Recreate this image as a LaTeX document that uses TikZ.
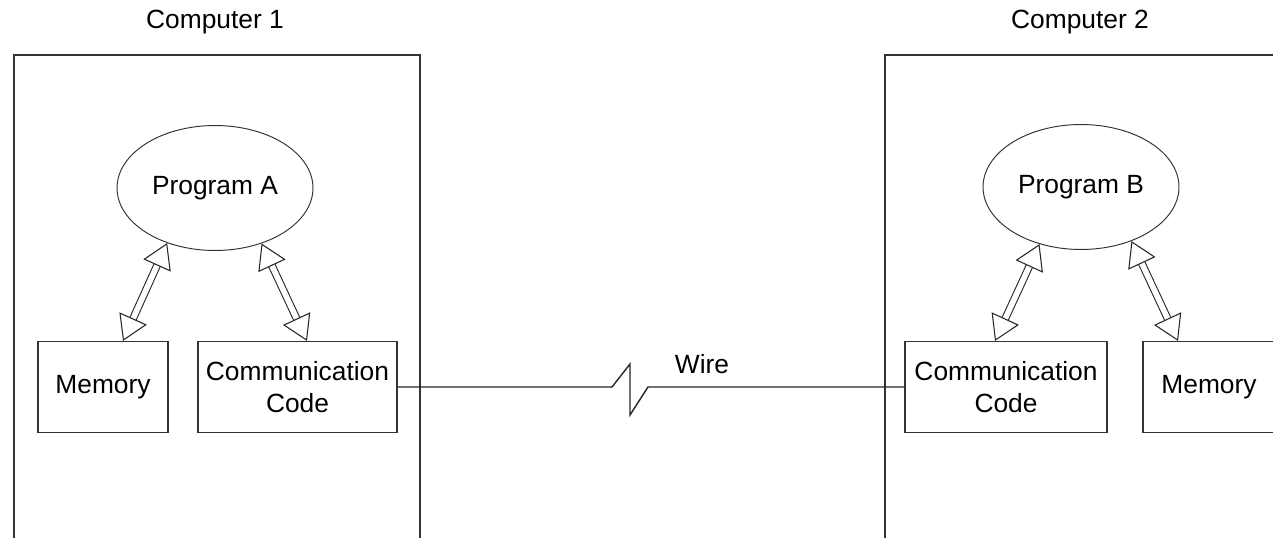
\documentclass[tikz,border=0pt]{standalone}
\usepackage{fontspec}
\setmainfont{Liberation Sans}
\usetikzlibrary{arrows.meta,calc,shapes.geometric}

\begin{document}
\begin{tikzpicture}[x=0.02cm,y=-0.02cm,
  every node/.style={font=\fontsize{15}{18}\selectfont},
  frame/.style={draw=black!80,line width=0.7pt},
  prog/.style={draw=black!80,ellipse,line width=0.55pt,minimum width=3.92cm,minimum height=2.5cm,inner sep=0pt},
  unit/.style={draw=black!80,line width=0.7pt,minimum height=1.82cm,inner sep=0pt,align=center},
  dblarrow/.style={draw=black!85,double,double distance=3.2pt,line width=0.6pt,
    {Triangle[open,fill=white,length=14pt,width=17pt]}-{Triangle[open,fill=white,length=14pt,width=17pt]}}]
\useasboundingbox (0,0) rectangle (1273,537);
\fill[white] (0,0) rectangle (1273,537);
% the two computers
\draw[frame] (14,600) |- (420,55) -- (420,600);
\draw[frame] (885,600) |- (1320,55);
\node (lab1) at (215,22) {Computer 1};
\node (lab2) at (1080,22) {Computer 2};
% computer 1
\node[prog] (progA) at (215,188) {Program A};
\node[unit,minimum width=2.6cm] (mem1) at (103,387) {Memory};
\node[unit,minimum width=3.98cm] (comm1) at (297.5,387) {Communication\\Code};
% computer 2
\node[prog] (progB) at (1081,187) {Program B};
\node[unit,minimum width=4.04cm] (comm2) at (1006,387) {Communication\\Code};
\node[unit,minimum width=2.64cm] (mem2) at (1209,387) {Memory};
% links inside
\draw[dblarrow] (progA.229) -- ([xshift=0.4cm]mem1.north);
\draw[dblarrow] (progA.310) -- ([xshift=0.19cm]comm1.north);
\draw[dblarrow] (progB.234) -- ([xshift=-0.22cm]comm2.north);
\draw[dblarrow] (progB.313) -- ([xshift=-0.62cm]mem2.north);
% wire with break
\coordinate (brk) at (630,387);
\draw[black!85,line width=0.8pt] (comm1.east) -- ([xshift=-0.36cm]brk)
  -- ([yshift=0.46cm]brk) -- ([yshift=-0.56cm]brk) -- ([xshift=0.36cm]brk) -- (comm2.west);
\node (wire) at (702,364) {Wire};
\end{tikzpicture}
\end{document}
